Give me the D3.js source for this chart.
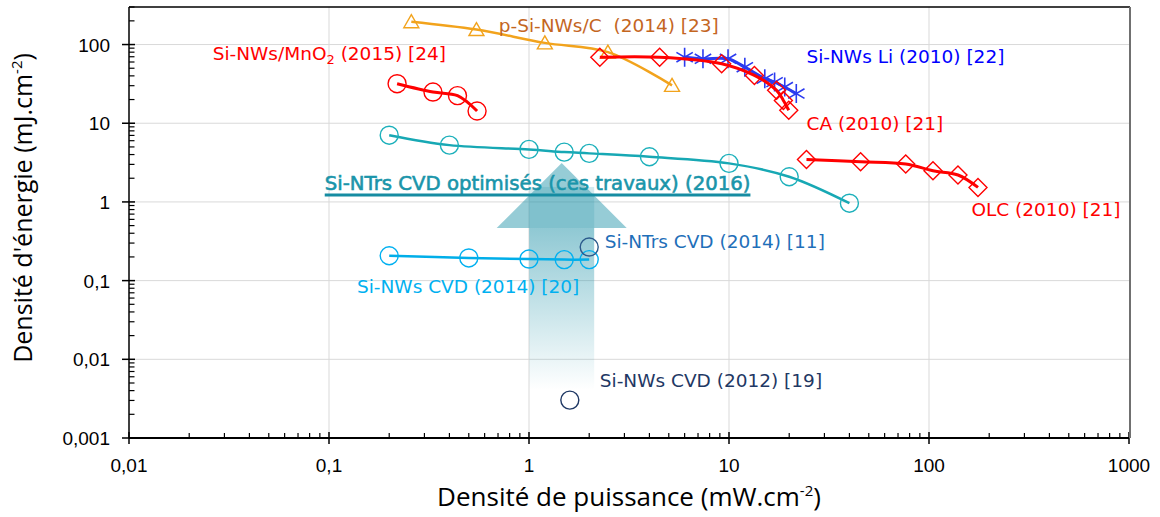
<!DOCTYPE html>
<html>
<head>
<meta charset="utf-8">
<script src="https://cdn.jsdelivr.net/npm/d3@7/dist/d3.min.js"></script>
<style>
  body { margin: 0; background: #fff; }
  .vis text { font-family: "DejaVu Sans", sans-serif; white-space: pre; }
</style>
</head>
<body>
<div class="vis"></div>
<script>
// axes (log-log), puissance en mW/cm2, énergie en mJ/cm2
const xTicks = [0.01, 0.1, 1, 10, 100, 1000];
const yTicks = [0.001, 0.01, 0.1, 1, 10, 100];

// p-Si-NWs/C (2014) [23]
const pSiC_x = [0.258, 0.546, 1.2, 2.48, 5.19];
const pSiC_y = [195, 155, 105, 80, 30.3];
// Si-NWs/MnO2 (2015) [24]
const mno2_x = [0.219, 0.331, 0.439, 0.55];
const mno2_y = [31.8, 24.9, 22.4, 14.3];
// CA (2010) [21]
const ca_x = [2.26, 4.5, 9.19, 13.4, 17.3, 18.7, 19.9];
const ca_y = [69, 69, 57, 40.5, 26.2, 19.5, 14.6];
// Si-NWs Li (2010) [22]
const li_x = [6.0, 7.41, 9.89, 12.0, 15.1, 16.9, 19.0, 21.7];
const li_y = [69.1, 65.9, 65.9, 51.6, 36.8, 33.3, 28.8, 23.8];
// OLC (2010) [21]
const olc_x = [24.4, 45.5, 76.5, 104.7, 139.6, 175.8];
const olc_y = [3.47, 3.24, 3.03, 2.49, 2.2, 1.53];
// Si-NTrs CVD optimisés (2016)
const ntrsOpt_x = [0.2, 0.4, 1, 1.5, 2, 4, 10, 20, 40];
const ntrsOpt_y = [7.05, 5.27, 4.65, 4.3, 4.14, 3.75, 3.09, 2.09, 0.963];
// Si-NWs CVD (2014) [20]
const nwsCvd14_x = [0.2, 0.5, 1, 1.5, 2];
const nwsCvd14_y = [0.207, 0.194, 0.188, 0.185, 0.185];
// Si-NTrs CVD (2014) [11]
const ntrsCvd14_x = [2];
const ntrsCvd14_y = [0.267];
// Si-NWs CVD (2012) [19]
const nwsCvd12_x = [1.6];
const nwsCvd12_y = [0.00303];

const draw = () => {
  d3.select(".vis > *").remove();
  const W = 1160, H = 517;
  let margin = { top: 7, right: 31, bottom: 79, left: 129 };
  const width = W - margin.left - margin.right;
  const height = H - margin.top - margin.bottom;

  const svg = d3.select(".vis").append("svg")
    .attr("width", W).attr("height", H)
    .append("g")
    .attr("transform", "translate(" + margin.left + "," + margin.top + ")");

  const x = d3.scaleLog().domain([0.01, 1000]).range([0, width]);
  const y = d3.scaleLog().domain([0.001, 300]).range([height, 0]);
  const fmt = (d) => String(d).replace(".", ",");

  // grille
  svg.append("g").selectAll("line").data(xTicks.slice(1, -1)).join("line")
    .attr("x1", (d) => x(d)).attr("x2", (d) => x(d))
    .attr("y1", 0).attr("y2", height)
    .attr("stroke", "#d9d9d9").attr("stroke-width", 1);
  svg.append("g").selectAll("line").data(yTicks.slice(1)).join("line")
    .attr("y1", (d) => y(d)).attr("y2", (d) => y(d))
    .attr("x1", 0).attr("x2", width)
    .attr("stroke", "#d9d9d9").attr("stroke-width", 1);

  // flèche "ces travaux"
  const ax = x(1.457);
  const defs = svg.append("defs");
  const grad = defs.append("linearGradient").attr("id", "fade")
    .attr("gradientUnits", "userSpaceOnUse")
    .attr("x1", 0).attr("x2", 0).attr("y1", y(0.466)).attr("y2", y(0.0041));
  grad.append("stop").attr("offset", 0).attr("stop-color", "#2896ab").attr("stop-opacity", 0.52);
  grad.append("stop").attr("offset", 1).attr("stop-color", "#2896ab").attr("stop-opacity", 0);
  svg.append("rect")
    .attr("x", ax - 32.5).attr("width", 65)
    .attr("y", y(0.466)).attr("height", y(0.0041) - y(0.466))
    .attr("fill", "url(#fade)");
  svg.append("path")
    .attr("d", `M${ax},${y(3.12)} L${ax + 65},${y(0.466)} L${ax - 65},${y(0.466)} Z`)
    .attr("fill", "#2896ab").attr("fill-opacity", 0.49);
  svg.append("rect")
    .attr("x", ax - 32.5).attr("width", 65)
    .attr("y", y(1.55)).attr("height", y(0.466) - y(1.55))
    .attr("fill", "#2896ab").attr("fill-opacity", 0.2);

  const series = [
    { xs: pSiC_x, ys: pSiC_y, line: "#f2a31c", mark: "#f2a31c", shape: "triangle", lw: 2.5 },
    { xs: mno2_x, ys: mno2_y, line: "#ff0000", mark: "#ff0000", shape: "circle", lw: 3 },
    { xs: ntrsOpt_x, ys: ntrsOpt_y, line: "#17a8b4", mark: "#1cb0bb", shape: "circle", lw: 2.5 },
    { xs: nwsCvd14_x, ys: nwsCvd14_y, line: "#00aee9", mark: "#00b0f0", shape: "circle", lw: 2.5 },
    { xs: ntrsCvd14_x, ys: ntrsCvd14_y, line: null, mark: "#2b5a8c", shape: "circle", lw: 0 },
    { xs: nwsCvd12_x, ys: nwsCvd12_y, line: null, mark: "#1f3864", shape: "circle", lw: 0 },
    { xs: olc_x, ys: olc_y, line: "#ff0000", mark: "#ff0000", shape: "diamond", lw: 3 },
    { xs: li_x, ys: li_y, line: "#2b3bf0", mark: "#2b3bf0", shape: "star", lw: 3 },
    { xs: ca_x, ys: ca_y, line: "#ff0000", mark: "#ff0000", shape: "diamond", lw: 3 },
  ];

  const shapes = {
    circle: "M-9,0 A9,9 0 1,0 9,0 A9,9 0 1,0 -9,0 Z",
    diamond: "M0,-9 L9,0 L0,9 L-9,0 Z",
    triangle: "M0,-7 L7.5,6 L-7.5,6 Z",
    star: "M0,-9.5 L0,9.5 M-8.2,-4.8 L8.2,4.8 M-8.2,4.8 L8.2,-4.8",
  };

  const line = d3.line()
    .x((d) => x(d[0])).y((d) => y(d[1]))
    .curve(d3.curveCatmullRom.alpha(0.5));

  series.forEach((s) => {
    const pts = s.xs.map((v, i) => [v, s.ys[i]]);
    const g = svg.append("g");
    if (s.line) {
      g.append("path").datum(pts).attr("d", line)
        .attr("fill", "none").attr("stroke", s.line)
        .attr("stroke-width", s.lw).attr("stroke-linejoin", "round");
    }
    g.selectAll("path.m").data(pts).join("path")
      .attr("class", "m")
      .attr("transform", (d) => "translate(" + x(d[0]) + "," + y(d[1]) + ")")
      .attr("d", shapes[s.shape])
      .attr("fill", "none").attr("stroke", s.mark)
      .attr("stroke-width", s.shape === "star" ? 1.6 : 1.4);
  });

  // étiquettes
  const notes = [
    { t: ["p-Si-NWs/C  (2014) [23]"], px: 0.706, py: 144.5, c: "#c4661f" },
    { t: ["Si-NWs/MnO", "2", " (2015) [24]"], px: 0.0262, py: 63.2, c: "#ff0000" },
    { t: ["Si-NWs Li (2010) [22]"], px: 24.4, py: 57.9, c: "#0000ff" },
    { t: ["CA (2010) [21]"], px: 24.4, py: 8.17, c: "#ff0000" },
    { t: ["OLC (2010) [21]"], px: 163, py: 0.662, c: "#ff0000" },
    { t: ["Si-NTrs CVD (2014) [11]"], px: 2.39, py: 0.26, c: "#1f6fb9" },
    { t: ["Si-NWs CVD (2014) [20]"], px: 0.138, py: 0.0698, c: "#00b0f0" },
    { t: ["Si-NWs CVD (2012) [19]"], px: 2.26, py: 0.00448, c: "#1f3864" },
  ];
  notes.forEach((n) => {
    const txt = svg.append("text")
      .attr("x", x(n.px)).attr("y", y(n.py))
      .attr("fill", n.c).style("font-size", "18.5px");
    n.t.forEach((part, i) => {
      const ts = txt.append("tspan").text(part);
      if (n.t.length === 3 && i === 1) ts.attr("dy", 4).style("font-size", "13px");
      if (n.t.length === 3 && i === 2) ts.attr("dy", -4);
    });
  });

  const main = svg.append("text")
    .attr("x", x(0.0952)).attr("y", y(1.416))
    .attr("fill", "#1a95aa").attr("stroke", "#1a95aa").attr("stroke-width", 0.6)
    .style("font-size", "19.7px")
    .text("Si-NTrs CVD optimisés (ces travaux) (2016)");
  const bb = main.node().getBBox();
  svg.append("line")
    .attr("x1", bb.x).attr("x2", bb.x + bb.width)
    .attr("y1", y(1.416) + 5).attr("y2", y(1.416) + 5)
    .attr("stroke", "#168ca2").attr("stroke-width", 3);

  // axes
  const tickFont = "Liberation Sans, Arial, sans-serif";
  const xAxis = svg.append("g").attr("transform", "translate(0," + height + ")");
  xAxis.selectAll("line.minor").data(x.ticks().filter((d) => xTicks.indexOf(d) < 0)).join("line")
    .attr("x1", (d) => x(d)).attr("x2", (d) => x(d)).attr("y1", 0).attr("y2", -5)
    .attr("stroke", "#000").attr("stroke-width", 1.2);
  xAxis.selectAll("line.major").data(xTicks).join("line")
    .attr("x1", (d) => x(d)).attr("x2", (d) => x(d)).attr("y1", -6).attr("y2", 6)
    .attr("stroke", "#000").attr("stroke-width", 1.5);
  xAxis.append("line").attr("x1", 0).attr("x2", width).attr("stroke", "#000").attr("stroke-width", 2);
  xAxis.selectAll("text").data(xTicks).join("text")
    .attr("x", (d) => x(d)).attr("y", 34).attr("text-anchor", "middle")
    .style("font-family", tickFont).style("font-size", "19px").text(fmt);

  const yAxis = svg.append("g");
  yAxis.selectAll("line.minor").data(y.ticks().filter((d) => yTicks.indexOf(d) < 0)).join("line")
    .attr("y1", (d) => y(d)).attr("y2", (d) => y(d)).attr("x1", 0).attr("x2", 5.5)
    .attr("stroke", "#000").attr("stroke-width", 1.2);
  yAxis.selectAll("line.major").data(yTicks).join("line")
    .attr("y1", (d) => y(d)).attr("y2", (d) => y(d)).attr("x1", -7).attr("x2", 6)
    .attr("stroke", "#000").attr("stroke-width", 1.5);
  yAxis.append("line").attr("y1", 0).attr("y2", height).attr("stroke", "#000").attr("stroke-width", 1.5);
  yAxis.selectAll("text").data(yTicks).join("text")
    .attr("x", -19).attr("y", (d) => y(d) + 7).attr("text-anchor", "end")
    .style("font-family", tickFont).style("font-size", "19px").text(fmt);

  // cadre
  svg.append("line").attr("x1", 0).attr("x2", width + 1).attr("y1", 0).attr("y2", 0)
    .attr("stroke", "#000").attr("stroke-width", 1.5);
  svg.append("line").attr("x1", width + 1).attr("x2", width + 1).attr("y1", 0).attr("y2", height)
    .attr("stroke", "#707070").attr("stroke-width", 2);

  // titres
  const titleFont = "Open Sans, sans-serif";
  const xt = svg.append("text")
    .attr("x", width / 2).attr("y", height + 68).attr("text-anchor", "middle")
    .style("font-family", titleFont).style("font-size", "26px").attr("fill", "#000");
  xt.append("tspan").text("Densité de puissance (mW.cm");
  xt.append("tspan").attr("dy", -10).style("font-size", "15px").text("-2");
  xt.append("tspan").attr("dy", 10).text(")");

  const yt = svg.append("text")
    .attr("transform", "translate(" + (32 - margin.left) + "," + (208 - margin.top) + ") rotate(-90)")
    .attr("text-anchor", "middle")
    .style("font-family", titleFont).style("font-size", "25px").attr("fill", "#000");
  yt.append("tspan").text("Densité d'énergie (mJ.cm");
  yt.append("tspan").attr("dy", -10).style("font-size", "15px").text("-2");
  yt.append("tspan").attr("dy", 10).text(")");
};

draw();
</script>
</body>
</html>
